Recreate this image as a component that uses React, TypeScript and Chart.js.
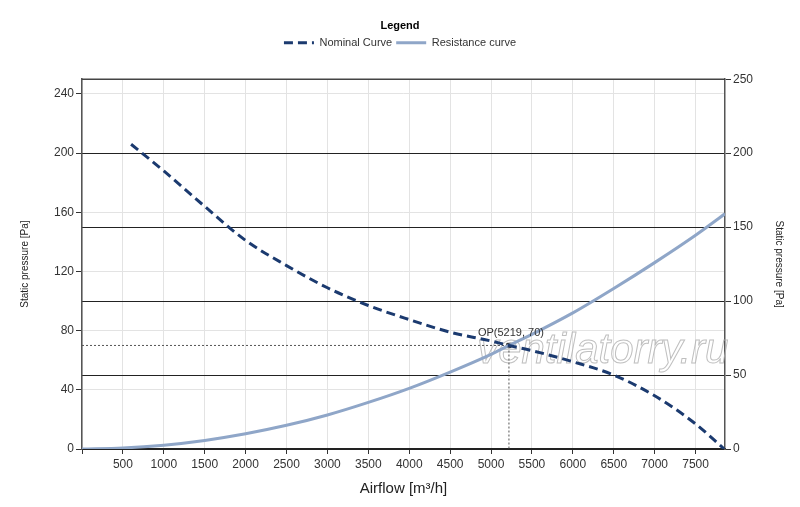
// @ts-nocheck
import { useEffect, useRef } from "react";
import { Chart, registerables } from "chart.js";

Chart.register(...registerables);

// Fan curve
const nominalFlow = [600, 1000, 1500, 2000, 2500, 3000, 3500, 4000, 4500, 5000, 5219, 5500, 6000, 6500, 7000, 7500, 7850];
const nominalPressure = [206, 188, 164, 141, 124, 109, 97, 87.5, 79, 73, 70, 66.5, 59, 50, 36, 17, 0];

// System resistance curve
const resistanceFlow = [0, 500, 1000, 1500, 2000, 2500, 3000, 3500, 4000, 4500, 5000, 5219, 5500, 6000, 6500, 7000, 7500, 7860];
const resistancePressure = [0, 0.7, 2.6, 5.8, 10.3, 16, 23, 31.5, 41, 52, 64, 70, 77.5, 92, 108.5, 126, 144.5, 159];

const opPoint = { x: 5219, y: 70 };
const xMax = 7860;
const yMax = 250;
const xTicks = [0, 500, 1000, 1500, 2000, 2500, 3000, 3500, 4000, 4500, 5000, 5500, 6000, 6500, 7000, 7500];
const leftTicks = [0, 40, 80, 120, 160, 200, 240];
const rightTicks = [0, 50, 100, 150, 200, 250];
const FONT = "'Liberation Sans', Arial, sans-serif";

const extrasPlugin = {
  id: "extras",
  beforeDatasetsDraw(chart) {
    const { ctx, chartArea } = chart;
    const x = chart.scales.x;
    const y = chart.scales.y;
    // watermark
    ctx.save();
    ctx.font = `italic 42px ${FONT}`;
    ctx.textAlign = "left";
    ctx.textBaseline = "alphabetic";
    ctx.strokeStyle = "rgba(175,175,175,0.8)";
    ctx.lineWidth = 1;
    ctx.strokeText("ventilatorry.ru", x.getPixelForValue(4830), y.getPixelForValue(58));
    ctx.restore();
    // top border
    ctx.save();
    ctx.strokeStyle = "#444";
    ctx.lineWidth = 1.5;
    ctx.beginPath();
    ctx.moveTo(chartArea.left, chartArea.top);
    ctx.lineTo(chartArea.right, chartArea.top);
    ctx.stroke();
    ctx.restore();
  },
  afterDatasetsDraw(chart) {
    const { ctx } = chart;
    const px = chart.scales.x.getPixelForValue(opPoint.x);
    const py = chart.scales.y.getPixelForValue(opPoint.y);
    ctx.save();
    ctx.font = `11px ${FONT}`;
    ctx.fillStyle = "#333";
    ctx.textAlign = "left";
    ctx.textBaseline = "middle";
    ctx.fillText(`OP(${opPoint.x}, ${opPoint.y})`, px - 31, py - 12);
    ctx.restore();
  },
};

export default function App() {
  const canvasRef = useRef<HTMLCanvasElement>(null);
  const chartRef = useRef<Chart | null>(null);

  useEffect(() => {
    document.body.style.margin = "0";
    if (!canvasRef.current) return;
    if (chartRef.current) chartRef.current.destroy();

    chartRef.current = new Chart(canvasRef.current, {
      type: "line",
      data: {
        datasets: [
          {
            label: "Nominal Curve",
            data: nominalFlow.map((f, i) => ({ x: f, y: nominalPressure[i] })),
            xAxisID: "x",
            yAxisID: "y",
            borderColor: "#1b3a6f",
            borderWidth: 3,
            borderDash: [9, 5],
            pointRadius: 0,
            cubicInterpolationMode: "monotone",
          },
          {
            label: "Resistance curve",
            data: resistanceFlow.map((f, i) => ({ x: f, y: resistancePressure[i] })),
            xAxisID: "x",
            yAxisID: "y",
            borderColor: "#8fa6c8",
            borderWidth: 3,
            pointRadius: 0,
            cubicInterpolationMode: "monotone",
          },
          {
            label: "op-lines",
            data: [
              { x: 0, y: opPoint.y },
              { x: opPoint.x, y: opPoint.y },
              { x: opPoint.x, y: 0 },
            ],
            xAxisID: "x",
            yAxisID: "y",
            borderColor: "#555",
            borderWidth: 1,
            borderDash: [2, 2],
            pointRadius: 0,
            tension: 0,
          },
          {
            label: "op",
            data: [{ x: opPoint.x, y: opPoint.y }],
            xAxisID: "x",
            yAxisID: "y",
            showLine: false,
            pointStyle: "rect",
            pointRadius: 3,
            backgroundColor: "#333",
            borderColor: "#333",
          },
        ],
      },
      options: {
        responsive: true,
        maintainAspectRatio: false,
        animation: false,
        layout: { padding: { top: 4, left: 0, right: 0, bottom: 0 } },
        plugins: {
          tooltip: { enabled: false },
          legend: {
            position: "top",
            title: {
              display: true,
              text: "Legend",
              color: "#000",
              font: { family: FONT, size: 11, weight: "bold" },
              padding: { top: 16, bottom: 0 },
            },
            labels: {
              filter: (item) => item.datasetIndex < 2,
              generateLabels: (chart) =>
                Chart.defaults.plugins.legend.labels.generateLabels(chart).map((item) => {
                  const ds = chart.data.datasets[item.datasetIndex];
                  return {
                    ...item,
                    lineDash: ds.borderDash || [],
                    lineWidth: 3,
                    strokeStyle: ds.borderColor,
                  };
                }),
              usePointStyle: true,
              pointStyle: "line",
              pointStyleWidth: 30,
              boxHeight: 10,
              color: "#333",
              font: { family: FONT, size: 11 },
              padding: 4,
            },
          },
        },
        scales: {
          x: {
            type: "linear",
            min: 0,
            max: xMax,
            afterBuildTicks: (s) => {
              s.ticks = xTicks.map((v) => ({ value: v }));
            },
            ticks: {
              color: "#333",
              font: { family: FONT, size: 12 },
              maxRotation: 0,
              autoSkip: false,
              padding: 3,
              callback: (v) => (v === 0 ? "" : String(v)),
            },
            grid: { color: "#e3e3e3", tickColor: "#333", tickLength: 5 },
            border: { color: "#222", width: 1.5 },
            title: {
              display: true,
              text: "Airflow [m³/h]",
              color: "#222",
              font: { family: FONT, size: 15 },
              padding: { top: 0, bottom: 9 },
            },
            afterFit: (s) => {
              s.height = 58;
            },
          },
          spacer: {
            type: "linear",
            position: "top",
            display: true,
            grid: { display: false, drawTicks: false },
            border: { display: false },
            ticks: { display: false },
            afterFit: (s) => {
              s.height = 21;
            },
          },
          y: {
            type: "linear",
            position: "left",
            min: 0,
            max: yMax,
            afterBuildTicks: (s) => {
              s.ticks = leftTicks.map((v) => ({ value: v }));
            },
            ticks: { color: "#333", font: { family: FONT, size: 12 }, padding: 2 },
            grid: { color: "#e3e3e3", tickColor: "#333", tickLength: 6 },
            border: { color: "#555", width: 1.5 },
            title: {
              display: true,
              text: "Static pressure [Pa]",
              color: "#222",
              font: { family: FONT, size: 10 },
              padding: { top: 19, bottom: 0 },
            },
            afterFit: (s) => {
              s.width = 82;
            },
          },
          y2: {
            type: "linear",
            position: "right",
            min: 0,
            max: yMax,
            afterBuildTicks: (s) => {
              s.ticks = rightTicks.map((v) => ({ value: v }));
            },
            ticks: { color: "#333", font: { family: FONT, size: 12 }, padding: 2 },
            grid: { color: "#222", tickColor: "#333", tickLength: 6 },
            border: { color: "#555", width: 1.5 },
            title: {
              display: true,
              text: "Static pressure [Pa]",
              color: "#222",
              font: { family: FONT, size: 10 },
              padding: { top: 15, bottom: 0 },
            },
            afterFit: (s) => {
              s.width = 75;
            },
          },
        },
      },
      plugins: [extrasPlugin],
    });

    return () => chartRef.current?.destroy();
  }, []);

  return (
    <div style={{ width: 800, height: 507, position: "relative" }}>
      <canvas ref={canvasRef} />
    </div>
  );
}
